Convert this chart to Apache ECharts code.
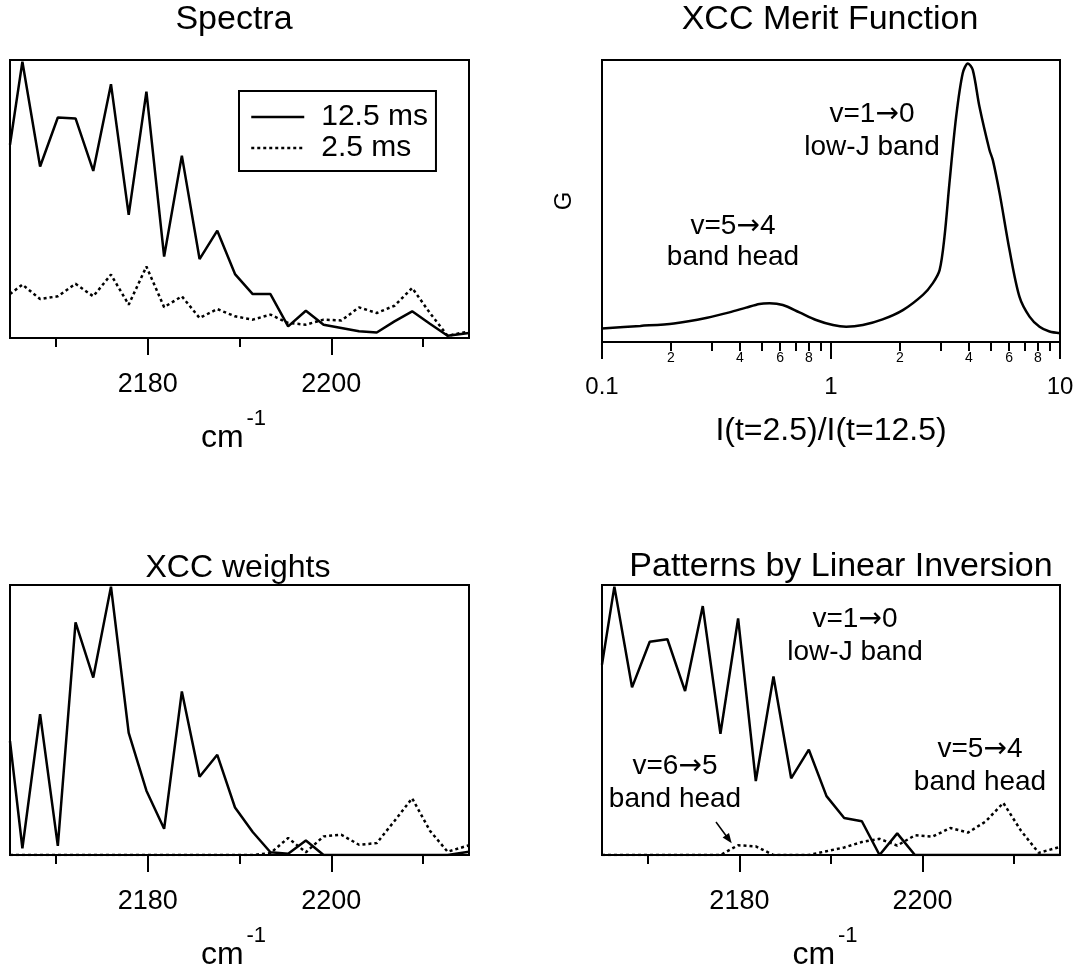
<!DOCTYPE html>
<html><head><meta charset="utf-8">
<script src="https://cdn.jsdelivr.net/npm/echarts@6/dist/echarts.min.js"></script>
<style>html,body{margin:0;padding:0;background:#fff}#c{width:1083px;height:972px}</style>
</head><body><div id="c"></div><script>
// ---------- data ----------
const wavenumber = [2165, 2166.35, 2168.28, 2170.21, 2172.14, 2174.07, 2176.0, 2177.93, 2179.86, 2181.79, 2183.72, 2185.65, 2187.58, 2189.51, 2191.44, 2193.37, 2195.3, 2197.23, 2199.16, 2201.09, 2203.02, 2204.95, 2206.88, 2208.81, 2210.74, 2212.67, 2215];
const spectrum12 = [0.695, 0.994, 0.617, 0.793, 0.790, 0.601, 0.913, 0.443, 0.886, 0.293, 0.656, 0.284, 0.386, 0.230, 0.158, 0.158, 0.042, 0.098, 0.048, 0.036, 0.024, 0.020, 0.060, 0.096, 0.051, 0.008, 0.018];
const spectrum2 = [0.158, 0.192, 0.140, 0.150, 0.195, 0.150, 0.228, 0.120, 0.257, 0.111, 0.150, 0.072, 0.104, 0.078, 0.066, 0.084, 0.054, 0.048, 0.066, 0.063, 0.110, 0.090, 0.116, 0.180, 0.090, 0.008, 0.024];
const weightSolid = [0.422, 0.025, 0.522, 0.034, 0.862, 0.657, 0.994, 0.452, 0.238, 0.097, 0.606, 0.290, 0.371, 0.176, 0.085, 0.010, 0.005, 0.054, 0, 0, 0, 0, 0, 0, 0, 0, 0.012];
const weightDotted = [0, 0, 0, 0, 0, 0, 0, 0, 0, 0, 0, 0, 0, 0, 0, 0.007, 0.063, 0.010, 0.069, 0.075, 0.038, 0.044, 0.126, 0.210, 0.090, 0.012, 0.036];
const patternLowJ = [0.705, 0.994, 0.621, 0.790, 0.799, 0.607, 0.922, 0.449, 0.876, 0.274, 0.661, 0.284, 0.390, 0.218, 0.137, 0.125, 0, 0.080, 0, 0, 0, 0, 0, 0, 0, 0, 0];
const patternBandHead = [0, 0, 0, 0, 0, 0, 0, 0, 0.036, 0.032, 0, 0, 0, 0.014, 0.028, 0.048, 0.060, 0.035, 0.073, 0.068, 0.100, 0.083, 0.124, 0.193, 0.090, 0.008, 0.030];

const ratio = [0.1, 0.147, 0.206, 0.288, 0.36, 0.426, 0.487, 0.539, 0.616, 0.728, 0.861, 1.02, 1.165, 1.377, 1.68, 2.06, 2.52, 2.78, 2.98, 3.13, 3.29, 3.52, 3.76, 3.96, 4.16, 4.45, 4.92, 5.09, 5.45, 6.02, 6.65, 7.36, 8.14, 9.0, 10];
const meritG = [0.048, 0.057, 0.066, 0.086, 0.105, 0.122, 0.135, 0.137, 0.131, 0.105, 0.078, 0.060, 0.054, 0.060, 0.080, 0.113, 0.167, 0.208, 0.255, 0.373, 0.563, 0.799, 0.953, 0.988, 0.965, 0.834, 0.681, 0.645, 0.527, 0.326, 0.161, 0.090, 0.054, 0.037, 0.031];

const specMajorTicks = [2180, 2200];
const specMinorTicks = [2170, 2190, 2210];
const logMajorTicks = [0.1, 1, 10];
const logMajorLabels = ['0.1', '1', '10'];
const logMinorTicks = [0.2, 0.3, 0.4, 0.5, 0.6, 0.7, 0.8, 0.9, 2, 3, 4, 5, 6, 7, 8, 9];
const logMinorLabelTicks = [0.2, 0.4, 0.6, 0.8, 2, 4, 6, 8];
const logMinorLabels = ['2', '4', '6', '8', '2', '4', '6', '8'];

// ---------- chart ----------
const FONT = '"Liberation Sans", Arial, Helvetica, sans-serif';
const ARROW_FONT = '"DejaVu Sans", sans-serif';
const BLACK = '#000';
const zip = (xs, ys) => xs.map((x, i) => [x, ys[i]]);
const lg = v => Math.log10(v);
const nearestLabel = (ticks, labels, v) => {
  let best = 0, d = Infinity;
  ticks.forEach((t, i) => { const dd = Math.abs(lg(t) - v); if (dd < d) { d = dd; best = i; } });
  return labels[best];
};

const gridBase = { show: true, borderColor: BLACK, borderWidth: 2, containLabel: false };
const grids = [
  Object.assign({ left: 10, top: 60, width: 459, height: 278 }, gridBase),
  Object.assign({ left: 602, top: 60, width: 458, height: 282 }, gridBase),
  Object.assign({ left: 10, top: 585, width: 459, height: 277 }, gridBase),
  Object.assign({ left: 602, top: 585, width: 458, height: 278 }, gridBase)
];

const cmName = '{a|cm}{b|-1}';
const cmRich = {
  a: { fontSize: 32, fontFamily: FONT, color: BLACK, verticalAlign: 'bottom', lineHeight: 46 },
  b: { fontSize: 22, fontFamily: FONT, color: BLACK, verticalAlign: 'top', lineHeight: 46, padding: [0, 0, 0, 3] }
};

function specAxes(gridIndex, labelMargin, nameGap) {
  return [
    {
      type: 'value', gridIndex, min: 2165, max: 2215, position: 'bottom',
      axisLine: { show: false }, splitLine: { show: false },
      axisTick: { show: true, customValues: specMajorTicks, length: 17, lineStyle: { color: BLACK, width: 2 } },
      axisLabel: { customValues: specMajorTicks, margin: labelMargin, fontSize: 27, color: BLACK, fontFamily: FONT,
        formatter: v => String(v) },
      name: cmName, nameLocation: 'middle', nameGap,
      nameTextStyle: { rich: cmRich, padding: [0, 12, 0, 0] }
    },
    {
      type: 'value', gridIndex, min: 2165, max: 2215, position: 'bottom',
      axisLine: { show: false }, splitLine: { show: false },
      axisTick: { show: true, customValues: specMinorTicks, length: 9, lineStyle: { color: BLACK, width: 2 } },
      axisLabel: { show: false }
    }
  ];
}

const logAxes = [
  {
    type: 'value', gridIndex: 1, min: -1, max: 1, position: 'bottom',
    axisLine: { show: false }, splitLine: { show: false },
    axisTick: { show: true, customValues: logMajorTicks.map(lg), length: 17, lineStyle: { color: BLACK, width: 2 } },
    axisLabel: { customValues: logMajorTicks.map(lg), margin: 33, fontSize: 24, color: BLACK, fontFamily: FONT,
      formatter: v => nearestLabel(logMajorTicks, logMajorLabels, v) },
    name: 'I(t=2.5)/I(t=12.5)', nameLocation: 'middle', nameGap: 73,
    nameTextStyle: { fontSize: 32, color: BLACK, fontFamily: FONT }
  },
  {
    type: 'value', gridIndex: 1, min: -1, max: 1, position: 'bottom',
    axisLine: { show: false }, splitLine: { show: false },
    axisTick: { show: true, customValues: logMinorTicks.map(lg), length: 9, lineStyle: { color: BLACK, width: 2 } },
    axisLabel: { customValues: logMinorLabelTicks.map(lg), margin: 9, fontSize: 14, color: BLACK, fontFamily: FONT,
      formatter: v => nearestLabel(logMinorLabelTicks, logMinorLabels, v) }
  }
];

const xAxes = [].concat(specAxes(0, 33, 70), logAxes, specAxes(2, 33, 70), specAxes(3, 33, 70));

const hiddenY = gi => ({ type: 'value', gridIndex: gi, min: 0, max: 1, show: false });
const yAxes = [
  hiddenY(0),
  { type: 'value', gridIndex: 1, min: 0, max: 1,
    axisLine: { show: false }, axisTick: { show: false }, axisLabel: { show: false }, splitLine: { show: false },
    name: 'G', nameLocation: 'middle', nameGap: 26, nameTextStyle: { fontSize: 24, color: BLACK, fontFamily: FONT } },
  hiddenY(2),
  hiddenY(3)
];

const solid = { color: BLACK, width: 2.5, type: 'solid' };
const dotted = { color: BLACK, width: 2.5, type: [3, 3] };
const lineSeries = (name, xi, yi, data, style, extra) => Object.assign({
  type: 'line', name, xAxisIndex: xi, yAxisIndex: yi, data, symbol: 'none', showSymbol: false,
  lineStyle: style, itemStyle: { color: BLACK }, animation: false, silent: true
}, extra || {});

const series = [
  lineSeries('12.5 ms', 0, 0, zip(wavenumber, spectrum12), solid),
  lineSeries('2.5 ms', 0, 0, zip(wavenumber, spectrum2), dotted),
  lineSeries('G', 2, 1, zip(ratio.map(lg), meritG), solid, { smooth: 0.3 }),
  lineSeries('XCC weight (12.5 ms)', 4, 2, zip(wavenumber, weightSolid), solid),
  lineSeries('XCC weight (2.5 ms)', 4, 2, zip(wavenumber, weightDotted), dotted),
  lineSeries('v=1→0 low-J band', 6, 3, zip(wavenumber, patternLowJ), solid),
  lineSeries('band heads', 6, 3, zip(wavenumber, patternBandHead), dotted)
];

const txt = (text, x, y, size, lineHeight) => ({
  type: 'text', x, y, silent: true,
  style: { text, fill: BLACK, fontSize: size, fontFamily: FONT,
    align: 'center', verticalAlign: 'middle', textAlign: 'center', textVerticalAlign: 'middle',
    lineHeight: lineHeight || Math.round(size * 1.2),
    rich: { ar: { fontFamily: ARROW_FONT, fontSize: size, lineHeight: lineHeight || Math.round(size * 1.2), fill: BLACK } } }
});

const graphics = [
  txt('Spectra', 234, 20, 34),
  txt('XCC Merit Function', 830, 20, 34),
  txt('XCC weights', 238, 568, 32),
  txt('Patterns by Linear Inversion', 841, 567, 34),
  txt('v=1{ar|→}0\nlow-J band', 872, 131, 28, 33),
  txt('v=5{ar|→}4\nband head', 733, 242, 28, 31),
  txt('v=1{ar|→}0\nlow-J band', 855, 636, 28, 33),
  txt('v=6{ar|→}5\nband head', 675, 783, 28, 33),
  txt('v=5{ar|→}4\nband head', 980, 766, 28, 33),
  { type: 'line', silent: true, shape: { x1: 716, y1: 822, x2: 727, y2: 837 }, style: { stroke: BLACK, lineWidth: 1.5 } },
  { type: 'polygon', silent: true, shape: { points: [[731.7, 843.3], [722.6, 837.6], [729.0, 832.9]] }, style: { fill: BLACK } }
];

const chart = echarts.init(document.getElementById('c'), null, { renderer: 'canvas' });
chart.setOption({
  backgroundColor: '#fff',
  animation: false,
  textStyle: { fontFamily: FONT, color: BLACK },
  grid: grids,
  xAxis: xAxes,
  yAxis: yAxes,
  legend: {
    show: true, orient: 'vertical', left: 239, top: 91,
    data: [
      { name: '12.5 ms', lineStyle: { type: 'solid', width: 2.5, color: BLACK } },
      { name: '2.5 ms', lineStyle: { type: [3, 3], width: 2.5, color: BLACK } }
    ],
    borderColor: BLACK, borderWidth: 2, padding: [11, 8, 8, 11], itemGap: 1,
    itemWidth: 53, itemHeight: 32, selectedMode: false,
    itemStyle: { opacity: 0 },
    textStyle: { fontSize: 30, color: BLACK, fontFamily: FONT, padding: [0, 0, 0, 12] }
  },
  series,
  graphic: graphics
});
</script></body></html>
